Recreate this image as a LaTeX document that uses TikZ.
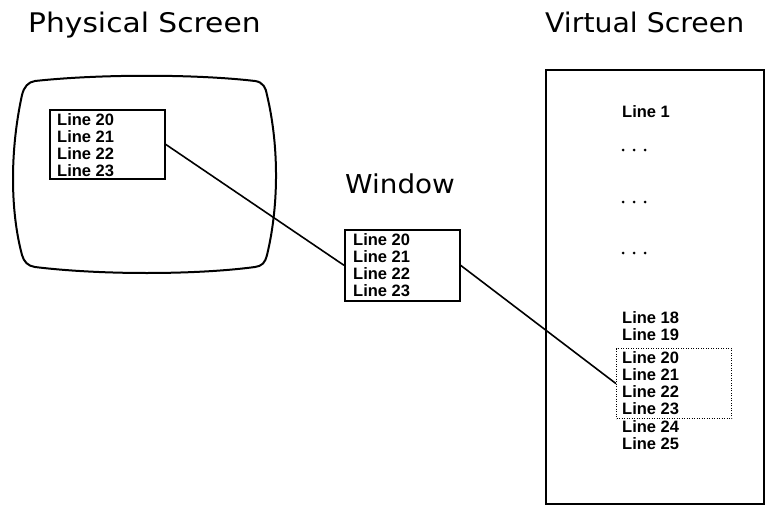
\documentclass[tikz,border=0pt]{standalone}
\usepackage{fontspec}
\newfontfamily\titlefont{DejaVu Sans}
\newfontfamily\linefont{Liberation Sans}
\begin{document}
\begin{tikzpicture}[x=1pt,y=-1pt,
  title/.style={anchor=base west,inner sep=0pt,font=\titlefont\fontsize{27}{32}\selectfont},
  ln/.style={anchor=base west,inner sep=0pt,font=\linefont\bfseries\fontsize{16.5}{20}\selectfont},
  frame/.style={draw,line width=1.6pt,inner sep=0pt,anchor=north west},
  conn/.style={line width=1.6pt},
  dotbox/.style={draw,line width=1.2pt,dash pattern=on 0.9pt off 1.6pt,inner sep=0pt,anchor=north west},
  dot/.style={circle,fill,inner sep=0pt,minimum size=3pt}]
\useasboundingbox (0,0) rectangle (772,506);
% titles
\node[title] (tphys) at (28,32) {\scalebox{1.1}[1]{Physical Screen}};
\node[title] (tvirt) at (545,32) {\scalebox{1.05}[1]{Virtual Screen}};
\node[title,font=\titlefont\fontsize{26}{30}\selectfont] (twin) at (345,193) {\scalebox{1.07}[1]{Window}};
% CRT outline
\draw[line width=2pt,line join=round] (35,81) .. controls (100,74) and (195,74) .. (255,81)
  .. controls (263,82) and (266,88) .. (267,95)
  .. controls (280,150) and (278,210) .. (267,255)
  .. controls (265,263) and (262,266) .. (255,267)
  .. controls (195,275) and (100,275) .. (35,267)
  .. controls (28,266) and (24,262) .. (22,255)
  .. controls (10,210) and (10,150) .. (22,95)
  .. controls (24,87) and (28,82) .. (35,81) -- cycle;
% physical box
\node[frame,minimum width=115pt,minimum height=69pt] (pbox) at (49,109) {};
\node[ln] (p20) at (57,125) {Line 20};
\node[ln] (p21) at (57,142) {Line 21};
\node[ln] (p22) at (57,159) {Line 22};
\node[ln] (p23) at (57,176) {Line 23};
% window box
\node[frame,minimum width=115pt,minimum height=71pt] (wbox) at (344,229) {};
\node[ln] (w20) at (353,245) {Line 20};
\node[ln] (w21) at (353,262) {Line 21};
\node[ln] (w22) at (353,279) {Line 22};
\node[ln] (w23) at (353,296) {Line 23};
% virtual screen
\node[frame,minimum width=218pt,minimum height=434pt] (vscreen) at (545,69) {};
\node[ln] (v1) at (622,117) {Line 1};
\foreach \yy/\nm in {150/a,202/b,253/c}{
  \node[dot] (d1\nm) at (623,\yy) {};
  \node[dot] (d2\nm) at (634,\yy) {};
  \node[dot] (d3\nm) at (645,\yy) {};
}
\node[ln] (v18) at (622,323) {Line 18};
\node[ln] (v19) at (622,340) {Line 19};
\node[dotbox,minimum width=115pt,minimum height=70pt] (vbox) at (616,348) {};
\node[ln] (v20) at (622,363) {Line 20};
\node[ln] (v21) at (622,380) {Line 21};
\node[ln] (v22) at (622,397) {Line 22};
\node[ln] (v23) at (622,414) {Line 23};
\node[ln] (v24) at (622,432) {Line 24};
\node[ln] (v25) at (622,449) {Line 25};
% connectors
\draw[conn] (pbox.east) -- (wbox.west);
\draw[conn] (wbox.east) -- (vbox.west);
\end{tikzpicture}
\end{document}
